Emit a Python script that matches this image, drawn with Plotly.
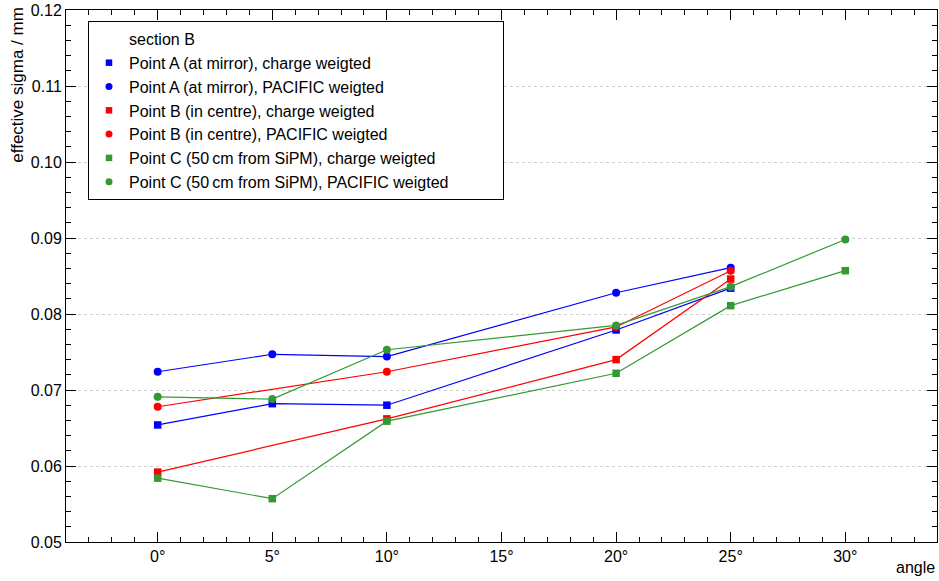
import plotly.graph_objects as go

angles_A = [0, 5, 10, 20, 25]
A_charge = [0.0654, 0.0682, 0.0680, 0.0779, 0.0834]
A_pacific = [0.0724, 0.0747, 0.0744, 0.0828, 0.0861]

angles_B = [0, 10, 20, 25]
B_charge = [0.0592, 0.0662, 0.0740, 0.0846]
B_pacific = [0.0678, 0.0724, 0.0783, 0.0857]

angles_C = [0, 5, 10, 20, 25, 30]
C_charge = [0.0584, 0.0557, 0.0659, 0.0722, 0.0811, 0.0857]
C_pacific = [0.0691, 0.0688, 0.0753, 0.0785, 0.0836, 0.0898]

x_tickvals = [0, 5, 10, 15, 20, 25, 30]
x_ticktext = ["0°", "5°", "10°", "15°", "20°", "25°", "30°"]

series = [
    ("Point A (at mirror), charge weigted", angles_A, A_charge, "#0000ff", "square"),
    ("Point A (at mirror), PACIFIC weigted", angles_A, A_pacific, "#0000ff", "circle"),
    ("Point B (in centre), charge weigted", angles_B, B_charge, "#ff0000", "square"),
    ("Point B (in centre), PACIFIC weigted", angles_B, B_pacific, "#ff0000", "circle"),
    ("Point C (50\u2009cm from SiPM), charge weigted", angles_C, C_charge, "#339933", "square"),
    ("Point C (50\u2009cm from SiPM), PACIFIC weigted", angles_C, C_pacific, "#339933", "circle"),
]

fig = go.Figure()

for name, xs, ys, col, sym in series:
    fig.add_trace(go.Scatter(
        x=xs, y=ys, mode="lines+markers", showlegend=False,
        line=dict(color=col, width=1.2),
        marker=dict(color=col, symbol=sym, size=8 if sym == "circle" else 7.5),
        hoverinfo="x+y",
    ))

# legend entries
pad = "\u00a0" * 11
fig.add_trace(go.Scatter(x=[None], y=[None], mode="markers", name="section B",
                         marker=dict(size=1, color="rgba(0,0,0,0)")))
for i, (name, xs, ys, col, sym) in enumerate(series):
    label = name + (pad if i == len(series) - 1 else "")
    fig.add_trace(go.Scatter(x=[None], y=[None], mode="markers", name=label,
                             marker=dict(color=col, symbol=sym, size=7 if sym == "circle" else 6.5)))

font_family = "Liberation Sans, Arial, sans-serif"

fig.update_layout(
    width=939, height=581,
    margin=dict(l=66, r=2, t=10, b=39),
    paper_bgcolor="white", plot_bgcolor="white",
    font=dict(family=font_family, size=16, color="black"),
    showlegend=True,
    legend=dict(
        x=(88 - 66) / 871, y=(542 - 21) / 532, xanchor="left", yanchor="top",
        bgcolor="white", bordercolor="black", borderwidth=1,
        font=dict(size=16, family=font_family),
        tracegroupgap=0,
    ),
    xaxis=dict(
        range=[-4, 34], tickmode="array", tickvals=x_tickvals, ticktext=x_ticktext,
        showline=True, linecolor="black", linewidth=1, mirror="ticks",
        ticks="inside", ticklen=10, tickcolor="black",
        minor=dict(dtick=1, ticks="inside", ticklen=5, tickcolor="black", showgrid=False),
        showgrid=False, zeroline=False, tickfont=dict(size=16),
    ),
    yaxis=dict(
        range=[0.05, 0.12], dtick=0.01, tick0=0.05, tickformat=".2f",
        showline=True, linecolor="black", linewidth=1, mirror="ticks",
        ticks="inside", ticklen=10, tickcolor="black",
        minor=dict(dtick=0.002, ticks="inside", ticklen=5, tickcolor="black", showgrid=False),
        showgrid=True, gridcolor="#cfcfcf", griddash="dot", gridwidth=1,
        zeroline=False, tickfont=dict(size=16),
    ),
    annotations=[
        dict(text="effective sigma / mm", xref="paper", yref="paper",
             x=(18 - 66) / 871, y=1.01, xanchor="center", yanchor="top",
             textangle=-90, showarrow=False, font=dict(size=17)),
        dict(text="angle", xref="paper", yref="paper",
             x=1.0, y=-0.028, xanchor="right", yanchor="top",
             showarrow=False, font=dict(size=16)),
    ],
)

fig.write_html("out.html")
